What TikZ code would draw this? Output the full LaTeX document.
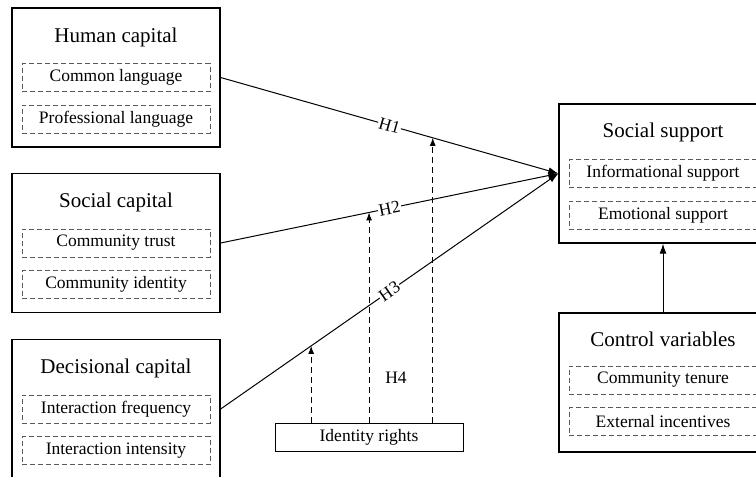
\documentclass[tikz,border=0pt]{standalone}
\usepackage{fontspec}
\setmainfont{Liberation Serif}
\usetikzlibrary{arrows.meta,calc}
\begin{document}
\begin{tikzpicture}[x=1pt,y=-1pt,
  outerbox/.style={draw=black,line width=1.3pt,minimum width=208pt,minimum height=139pt,inner sep=0pt},
  titletext/.style={font=\fontsize{21}{24}\selectfont,inner sep=0pt},
  itembox/.style={draw=black!65,dash pattern=on 5pt off 3pt,line width=1pt,minimum width=188pt,minimum height=28pt,inner sep=0pt,font=\fontsize{17.5}{20}\selectfont},
  modbox/.style={draw=black,line width=1pt,minimum width=188pt,minimum height=28pt,inner sep=0pt,font=\fontsize{17.5}{20}\selectfont},
  path/.style={draw=black,line width=1pt,-{Latex[length=10pt,width=7pt]}},
  modarrow/.style={draw=black,line width=1pt,dash pattern=on 6pt off 4pt,-{Latex[length=8pt,width=6pt]}},
  hlabel/.style={sloped,fill=white,inner sep=1pt,font=\fontsize{17.5}{20}\selectfont}]
\useasboundingbox (0,0) rectangle (756,477);
\clip (0,0) rectangle (756,477);

% left block: human capital
\node[outerbox] (hc) at (116,77.5) {};
\node[titletext] (hct) at ($(hc.center)+(0,-40)$) {Human capital};
\node[itembox] (hc1) at (hc.center) {Common language};
\node[itembox] (hc2) at ($(hc.center)+(0,41.5)$) {Professional language};

% left block: social capital
\node[outerbox] (sc) at (116,243) {};
\node[titletext] (sct) at ($(sc.center)+(0,-41)$) {Social capital};
\node[itembox] (sc1) at (sc.center) {Community trust};
\node[itembox] (sc2) at ($(sc.center)+(0,41.5)$) {Community identity};

% left block: decisional capital
\node[outerbox] (dc) at (116,409) {};
\node[titletext] (dct) at ($(dc.center)+(0,-41)$) {Decisional capital};
\node[itembox] (dc1) at (dc.center) {Interaction frequency};
\node[itembox] (dc2) at ($(dc.center)+(0,41.5)$) {Interaction intensity};

% right block: social support
\node[outerbox] (ss) at (663,173.5) {};
\node[titletext] (sst) at ($(ss.center)+(0,-41.5)$) {Social support};
\node[itembox] (ss1) at (ss.center) {Informational support};
\node[itembox] (ss2) at ($(ss.center)+(0,41.5)$) {Emotional support};

% right block: control variables
\node[outerbox] (cv) at (663,382.5) {};
\node[titletext] (cvt) at ($(cv.center)+(0,-43.5)$) {Control variables};
\node[itembox] (cv1) at ($(cv.center)+(0,-2.5)$) {Community tenure};
\node[itembox] (cv2) at ($(cv.center)+(0,39)$) {External incentives};

% moderator
\node[modbox] (ir) at (369,437) {Identity rights};

% hypothesised paths
\draw[path] (hc.east) -- node[hlabel]{H1} (ss.west);
\draw[path] (sc.east) -- node[hlabel]{H2} (ss.west);
\draw[path] (dc.east) -- node[hlabel]{H3} (ss.west);
\draw[path] (cv.north) -- (ss.south);

% moderating effects
\coordinate (m1) at ($(hc.east)!0.628!(ss.west)$);
\coordinate (m2) at ($(sc.east)!0.4395!(ss.west)$);
\coordinate (m3) at ($(dc.east)!0.268!(ss.west)$);
\draw[modarrow] (ir.north -| m1) -- (m1);
\draw[modarrow] (ir.north -| m2) -- (m2);
\draw[modarrow] (ir.north -| m3) -- (m3);
\node[font=\fontsize{17.5}{20}\selectfont,inner sep=0pt] (h4) at (396,378) {H4};
\end{tikzpicture}
\end{document}
